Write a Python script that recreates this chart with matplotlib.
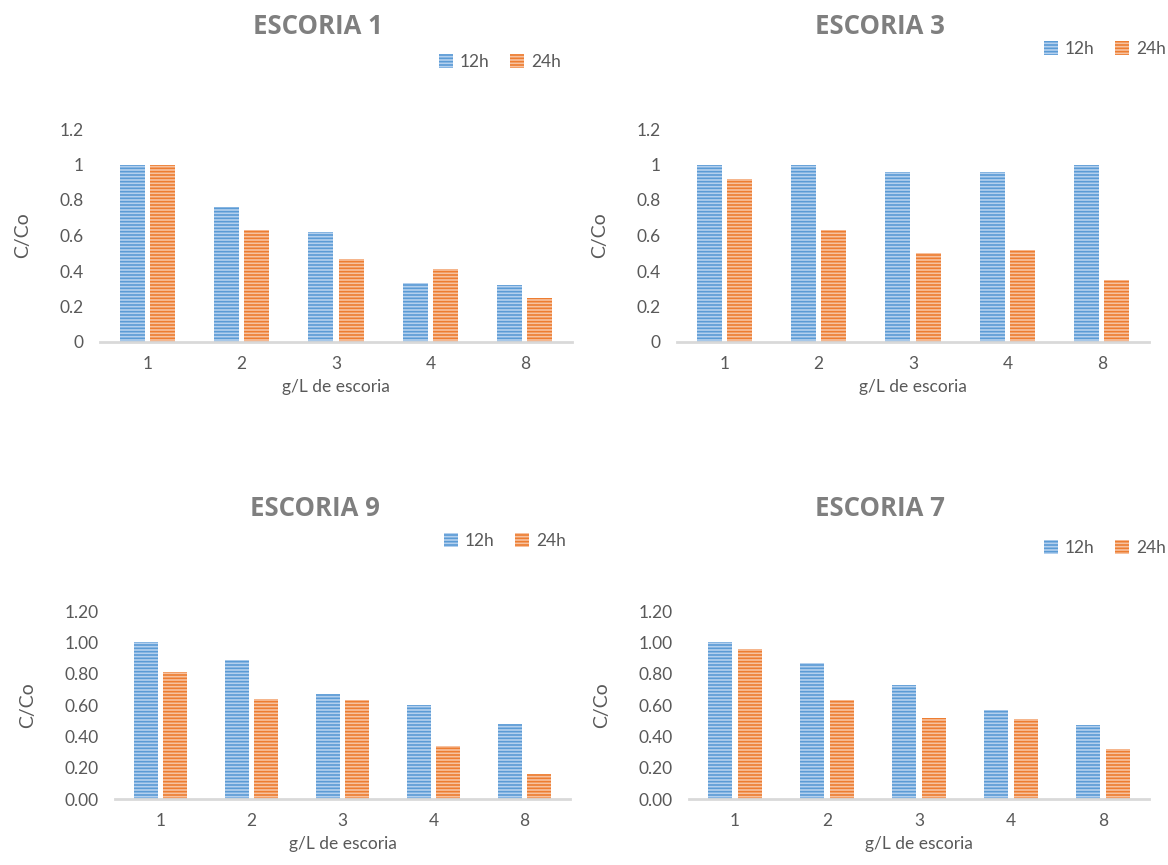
import matplotlib.pyplot as plt
import numpy as np

plt.rcParams['font.family'] = ['Lato', 'DejaVu Sans']
plt.rcParams['hatch.linewidth'] = 1.2

# g/L of slag on the x axis, same for all four runs
dosis = ['1', '2', '3', '4', '8']

# C/Co after 12 h and 24 h
escoria1_12h = [1.00, 0.76, 0.62, 0.33, 0.32]
escoria1_24h = [1.00, 0.63, 0.47, 0.41, 0.25]

escoria3_12h = [1.00, 1.00, 0.96, 0.96, 1.00]
escoria3_24h = [0.92, 0.63, 0.50, 0.52, 0.35]

escoria9_12h = [1.00, 0.89, 0.67, 0.60, 0.48]
escoria9_24h = [0.81, 0.64, 0.63, 0.34, 0.16]

escoria7_12h = [1.00, 0.87, 0.73, 0.57, 0.47]
escoria7_24h = [0.96, 0.63, 0.52, 0.51, 0.32]

blue = '#5b9bd5'
blue_light = '#b4d0ee'
orange = '#ed7d31'
orange_light = '#f7c2a0'
grey_text = '#595959'
grey_title = '#7f7f7f'

fig = plt.figure(figsize=(11.68, 8.65), dpi=100)


def panel(rect, title, v12, v24, fmt, title_xy, legend_xy):
    ax = fig.add_axes(rect)
    x = np.arange(len(dosis))
    w = 0.265
    ax.bar(x - 0.16, v12, w, facecolor=blue_light, edgecolor=blue,
           linewidth=0, hatch='-----', label='12h')
    ax.bar(x + 0.16, v24, w, facecolor=orange_light, edgecolor=orange,
           linewidth=0, hatch='-----', label='24h')
    ax.set_xlim(-0.5, len(dosis) - 0.5)
    ax.set_ylim(0, 1.2)
    ax.set_yticks(np.arange(0, 1.21, 0.2))
    ax.set_yticklabels([fmt(v) for v in np.arange(0, 1.21, 0.2)])
    ax.set_xticks(x)
    ax.set_xticklabels(dosis)
    for s in ['top', 'right', 'left']:
        ax.spines[s].set_visible(False)
    ax.spines['bottom'].set_color('#d9d9d9')
    ax.spines['bottom'].set_linewidth(2)
    ax.tick_params(axis='both', length=0, labelsize=12.5, colors=grey_text)
    ax.tick_params(axis='y', pad=12)
    ax.tick_params(axis='x', pad=10)
    ax.set_xlabel('g/L de escoria', fontsize=12.5, color=grey_text, labelpad=5)
    ax.set_ylabel('C/Co', fontsize=14, color=grey_text, labelpad=20)
    fig.text(title_xy[0] / 1168, 1 - title_xy[1] / 865, title,
             fontsize=18.5, fontweight='bold', color=grey_title,
             family=['Open Sans', 'DejaVu Sans'], ha='center', va='center')
    ax.legend(loc='center', bbox_to_anchor=(legend_xy[0] / 1168, 1 - legend_xy[1] / 865),
              bbox_transform=fig.transFigure, ncol=2, frameon=False,
              fontsize=12.5, labelcolor=grey_text, handlelength=0.8,
              handleheight=0.8, handletextpad=0.4, columnspacing=1.2)
    return ax


def one_dec(v):
    return '{:g}'.format(round(v, 1))


def two_dec(v):
    return '{:.2f}'.format(v)


panel([100 / 1168, 1 - 342 / 865, 472 / 1168, 213 / 865], 'ESCORIA 1',
      escoria1_12h, escoria1_24h, one_dec, (318, 27), (500, 62))
panel([677 / 1168, 1 - 342 / 865, 472 / 1168, 213 / 865], 'ESCORIA 3',
      escoria3_12h, escoria3_24h, one_dec, (880, 27), (1105, 49))
panel([115 / 1168, 1 - 799 / 865, 455 / 1168, 188 / 865], 'ESCORIA 9',
      escoria9_12h, escoria9_24h, two_dec, (315, 508), (505, 541))
panel([689 / 1168, 1 - 799 / 865, 460 / 1168, 188 / 865], 'ESCORIA 7',
      escoria7_12h, escoria7_24h, two_dec, (880, 508), (1105, 548))

fig.savefig('out.png', dpi=100)
